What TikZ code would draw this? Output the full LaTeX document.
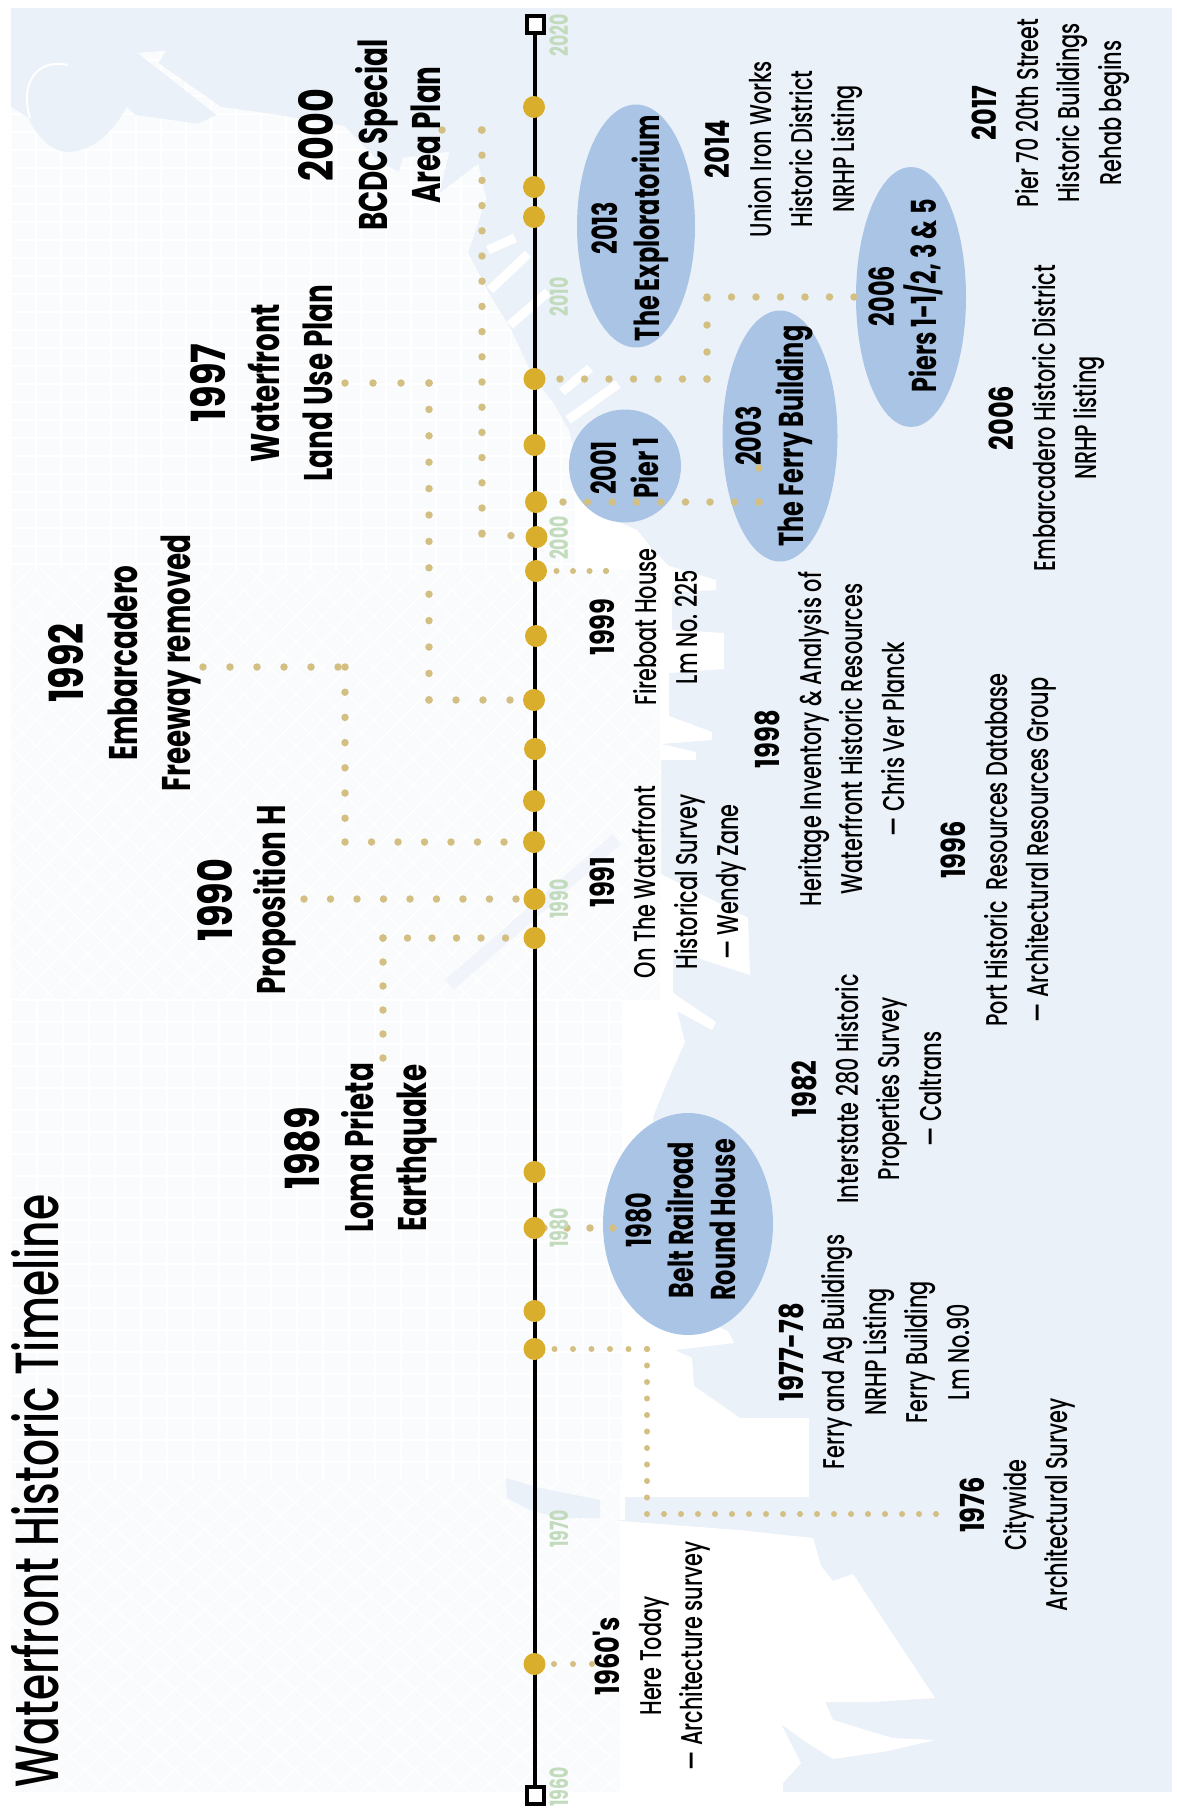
\documentclass[tikz,border=0pt]{standalone}
\usepackage{fontspec}
\usetikzlibrary{shapes.geometric}
\setmainfont[FakeStretch=0.695]{Poppins}
\newfontfamily\medfont[FakeStretch=0.695]{Poppins Medium}
\newfontfamily\yrfont[FakeStretch=0.78]{Poppins}
\definecolor{water}{HTML}{EBF1F9}
\definecolor{blockgrey}{HTML}{FAFBFD}
\definecolor{bubble}{HTML}{A9C4E5}
\definecolor{gold}{HTML}{D8AE2C}
\definecolor{dotgold}{HTML}{D3BF81}
\definecolor{yeargreen}{HTML}{C3DBBD}
\pgfdeclarelayer{top}
\pgfsetlayers{main,top}
\tikzset{
  dotline/.style={draw=dotgold,line width=7.5pt,line cap=round,dash pattern=on 0pt off #1pt},
  smalldot/.style={draw=dotgold,line width=6pt,line cap=round,dash pattern=on 0pt off #1pt},
  event/.style={circle,fill=gold,minimum size=22pt,inner sep=0pt},
  endbox/.style={rectangle,draw=black,line width=4pt,fill=white,minimum size=17pt,inner sep=0pt},
  bubbleshape/.style={ellipse,fill=bubble,draw=none,inner sep=0pt},
  txt/.style={rotate=90,align=center,inner sep=0pt,text=black},
  bigtxt/.style={txt,font=\fontsize{40}{53.5}\selectfont\bfseries},
  midtxt/.style={txt,font=\fontsize{34.5}{42}\selectfont\bfseries},
  smalltxt/.style={txt,font=\medfont\fontsize{30}{41.5}\selectfont},
  yeartxt/.style={rotate=90,inner sep=0pt,text=yeargreen,font=\fontsize{25}{25}\selectfont\bfseries},
  street/.style={draw=white,line width=1.4pt},
}
\newcommand{\bigyear}[1]{{\yrfont\bfseries\fontsize{47}{53.5}\selectfont #1}}
\newcommand{\midyear}[1]{{\yrfont\bfseries\fontsize{33}{41.5}\selectfont #1}}
\newcommand{\landpath}{(11,107) -- (28,118) .. controls (36,135) and (50,152) .. (67,152) .. controls (90,153) and (112,135) .. (127,107)
  -- (135,115) -- (198,124) -- (217,115) -- (138,53) -- (166,51) -- (158,63) -- (221,107) -- (277,115) -- (344,126) -- (379,162) -- (399,172)
  -- (403,158) -- (449,152) -- (439,194) -- (478,164) -- (486,198) -- (468,253) -- (488,292) -- (510,328) -- (534,379) -- (553,403) -- (569,431)
  -- (590,510) -- (637,530) -- (653,550) -- (669,566) -- (716,580) -- (716,590) -- (672,592) -- (672,630) -- (724,633) -- (724,669) -- (669,673)
  -- (669,716) -- (712,732) -- (712,740) -- (661,744) -- (696,752) -- (696,760) -- (661,760) -- (661,874) -- (748,918) -- (750,975) -- (673,950)
  -- (673,993) -- (716,1022) -- (712,1030) -- (677,1011) -- (685,1042) -- (668,1080) -- (653,1117) -- (660,1200) -- (700,1320) -- (728,1331) -- (734,1343) -- (675,1350)
  -- (692,1358) -- (694,1386) -- (740,1418) -- (809,1418) -- (809,1497) -- (625,1497) -- (625,1520) -- (607,1520) -- (738,1530) -- (813,1538) -- (821,1566) -- (833,1581)
  -- (853,1574) -- (935,1698) -- (872,1702) -- (825,1702) -- (833,1720) -- (892,1738) -- (935,1740) -- (888,1751) -- (833,1759) -- (809,1744) -- (781,1724)
  -- (801,1763) -- (783,1783) -- (783,1792) -- (11,1792) -- cycle}
\begin{document}
\begin{tikzpicture}[x=1pt,y=-1pt]
\useasboundingbox (0,0) rectangle (1176,1810);
% water and land
\fill[water] (11,8) rectangle (1172,1792);
\fill[white] \landpath;
\begin{scope}
  \clip \landpath;
  \fill[blockgrey] (11,40) rectangle (575,570);
  \foreach \i in {0,...,23} {\draw[street] (11+\i*25,40) -- (11+\i*25,570);}
  \foreach \i in {0,...,29} {\draw[street] (11,60+\i*18) -- (575,60+\i*18);}
  \fill[blockgrey] (11,570) rectangle (660,1000);
  \foreach \i in {0,...,50} {\draw[street] (-400+\i*26,570) -- (30+\i*26,1000);}
  \foreach \i in {0,...,50} {\draw[street] (-400+\i*26,1000) -- (30+\i*26,570);}
  \fill[blockgrey] (11,1000) rectangle (622,1480);
  \foreach \i in {0,...,24} {\draw[street] (11+\i*26,1000) -- (11+\i*26,1480);}
  \foreach \i in {0,...,22} {\draw[street] (11,1000+\i*22) -- (622,1000+\i*22);}
  \fill[blockgrey] (11,1480) rectangle (620,1792);
  \foreach \i in {0,...,30} {\draw[street] (-300+\i*30,1480) -- (50+\i*30,1792);}
  \foreach \i in {0,...,30} {\draw[street] (-300+\i*30,1792) -- (50+\i*30,1480);}
  \fill[water] (506,1478) -- (540,1488) -- (600,1500) -- (600,1518) -- (560,1518) -- (530,1510) -- (507,1498) -- cycle;
  \draw[water!70!white,line width=13pt] (449,985) -- (617,839);
\end{scope}
% piers and breakwater
\draw[white,line width=9pt] (488,250) -- (515,238);
\draw[white,line width=9pt] (490,290) -- (528,254);
\draw[white,line width=9pt] (510,325) -- (548,292);
\draw[white,line width=9pt] (562,392) -- (590,368);
\draw[white,line width=9pt] (568,420) -- (618,384);
\draw[white,line width=2pt] (30,118) .. controls (20,85) and (35,58) .. (68,65);
% bubbles
\node[bubbleshape,minimum width=118pt,minimum height=243pt] (bexpl) at (636,226) {};
\node[bubbleshape,minimum width=112pt,minimum height=113pt] (bpier) at (625,466) {};
\node[bubbleshape,minimum width=115pt,minimum height=251pt] (bferry) at (780,436) {};
\node[bubbleshape,minimum width=110pt,minimum height=260pt] (bpiers) at (911,297) {};
\node[bubbleshape,minimum width=170pt,minimum height=222pt] (bbelt) at (688,1224) {};
% timeline
\begin{pgfonlayer}{top}
\node[endbox] (tend) at (535,24) {};
\node[endbox] (tstart) at (535,1795) {};
\node[event] (e01) at (534,107) {};
\node[event] (e02) at (534,187) {};
\node[event] (e03) at (534,217) {};
\node[event] (e04) at (534.5,379) {};
\node[event] (e05) at (534.5,445) {};
\node[event] (e06) at (536,502) {};
\node[event] (e07) at (536.5,537) {};
\node[event] (e08) at (536,571) {};
\node[event] (e09) at (536,636) {};
\node[event] (e10) at (534,700) {};
\node[event] (e11) at (535,749) {};
\node[event] (e12) at (534,801) {};
\node[event] (e13) at (534,842) {};
\node[event] (e14) at (534.5,899) {};
\node[event] (e15) at (534.5,938) {};
\node[event] (e16) at (534.5,1172) {};
\node[event] (e17) at (534.5,1228) {};
\node[event] (e18) at (534.5,1311) {};
\node[event] (e19) at (534.5,1349) {};
\node[event] (e20) at (534.5,1664) {};
\end{pgfonlayer}
\draw[black,line width=4pt] (tend) -- (tstart);
% connector coordinates
\coordinate (bcdcA) at (442,130);
\coordinate (bcdcB) at (482,130);
\coordinate (bcdcC) at (482,534);
\coordinate (wfA) at (345,383);
\coordinate (wfB) at (429,383);
\coordinate (wfC) at (429,700);
\coordinate (emA) at (203,667);
\coordinate (emB) at (345,667);
\coordinate (emC) at (345,842);
\coordinate (prop) at (304,899);
\coordinate (lomaA) at (383,1058);
\coordinate (lomaB) at (383,938);
\coordinate (rnd) at (613,1228);
\coordinate (citA) at (647,1349);
\coordinate (citB) at (647,1514);
\coordinate (citC) at (937,1514);
\coordinate (here) at (592,1664);
\coordinate (fire) at (606,571);
\coordinate (fireB) at (606,590);
\coordinate (ferA) at (759,502);
\coordinate (ferB) at (759,468);
\coordinate (expA) at (707,379);
\coordinate (expB) at (707,297);
\coordinate (expC) at (854,297);
% connectors
\draw[dotline=39.5] (bcdcA) -- (bcdcB);
\draw[dotline=25.2] (bcdcB) -- (bcdcC);
\draw[dotline=29] (bcdcC) -- (e07.center);
\draw[dotline=28] (wfA) -- (wfB);
\draw[dotline=26.4] (wfB) -- (wfC);
\draw[dotline=27] (wfC) -- (e10.center);
\draw[dotline=27] (emA) -- (emB);
\draw[dotline=25.2] (emB) -- (emC);
\draw[dotline=26.5] (emC) -- (e13.center);
\draw[dotline=26.5] (prop) -- (e14.center);
\draw[dotline=24] (lomaA) -- (lomaB);
\draw[dotline=24.5] (lomaB) -- (e15.center);
\draw[dotline=23] (rnd) -- (e17.center);
\draw[smalldot=18.5] (citA) -- (e19.center);
\draw[smalldot=16.5] (citA) -- (citB);
\draw[smalldot=17] (citB) -- (citC);
\draw[smalldot=19] (here) -- (e20.center);
\draw[smalldot=16.5] (fire) -- (e08.center);
\draw[smalldot=19] (fire) -- (fireB);
\draw[dotline=24.5] (ferA) -- (e06.center);
\draw[dotline=34] (ferA) -- (ferB);
\draw[dotline=24.5] (expA) -- (e04.center);
\draw[dotline=27] (expA) -- (expB);
\draw[dotline=24.5] (expC) -- (expB);
% texts
\begin{pgfonlayer}{top}
\node[yeartxt] (y2020) at (559,35) {2020};
\node[yeartxt] (y2010) at (559,297) {2010};
\node[yeartxt] (y2000) at (559,538) {2000};
\node[yeartxt] (y1990) at (559,899) {1990};
\node[yeartxt] (y1980) at (559,1228) {1980};
\node[yeartxt] (y1970) at (559,1529) {1970};
\node[yeartxt] (y1960) at (559,1787) {1960};
\node[txt,font=\medfont\fontsize{61}{61}\selectfont] (title) at (35,1491) {Waterfront Historic Timeline};
\node[bigtxt] (t2000) at (370,135) {\bigyear{2000}\\BCDC Special\\Area Plan};
\node[bigtxt] (t1997) at (262,383) {\bigyear{1997}\\Waterfront\\Land Use Plan};
\node[bigtxt] (t1992) at (125,663) {\bigyear{1992}\\Embarcadero\\Freeway removed};
\node[bigtxt] (t1990) at (247,900) {\bigyear{1990}\\Proposition H};
\node[bigtxt] (t1989) at (361,1148) {\bigyear{1989}\\Loma Prieta\\Earthquake};
\node[midtxt] (t2013) at (630,228) {2013\\The Exploratorium};
\node[midtxt] (t2001) at (625,468) {2001\\Pier 1};
\node[midtxt] (t2003) at (774,436) {2003\\The Ferry Building};
\node[midtxt] (t2006p) at (906,296) {2006\\Piers 1-1/2, 3 \& 5};
\node[midtxt] (t1980) at (681,1220) {1980\\Belt Railroad\\Round House};
\node[smalltxt] (t2014) at (784,149) {\midyear{2014}\\Union Iron Works\\Historic District\\NRHP Listing};
\node[smalltxt] (t2017) at (1051,113) {\midyear{2017}\\Pier 70 20th Street\\Historic Buildings\\Rehab begins};
\node[smalltxt] (t2006) at (1047,418) {\midyear{2006}\\Embarcadero Historic District\\NRHP listing};
\node[smalltxt] (t1999) at (644,627) {\midyear{1999}\\Fireboat House\\Lm No. 225};
\node[smalltxt] (t1991) at (668,882) {\midyear{1991}\\On The Waterfront\\Historical Survey\\— Wendy Zane};
\node[smalltxt] (t1998) at (830,739) {\midyear{1998}\\Heritage Inventory \& Analysis of\\Waterfront Historic Resources\\— Chris Ver Planck};
\node[smalltxt] (t1996) at (999,850) {\midyear{1996}\\Port Historic\ \ Resources Database\\— Architectural Resources Group};
\node[smalltxt] (t1982) at (867,1089) {\midyear{1982}\\Interstate 280 Historic\\Properties Survey\\— Caltrans};
\node[smalltxt] (t1977) at (874,1352) {\midyear{1977-78}\\Ferry and Ag Buildings\\NRHP Listing\\Ferry Building\\Lm No.90};
\node[smalltxt] (t1976) at (1018,1505) {\midyear{1976}\\Citywide\\Architectural Survey};
\node[smalltxt] (t1960) at (652,1656) {\midyear{1960's}\\Here Today\\— Architecture survey};
\end{pgfonlayer}
\end{tikzpicture}
\end{document}
